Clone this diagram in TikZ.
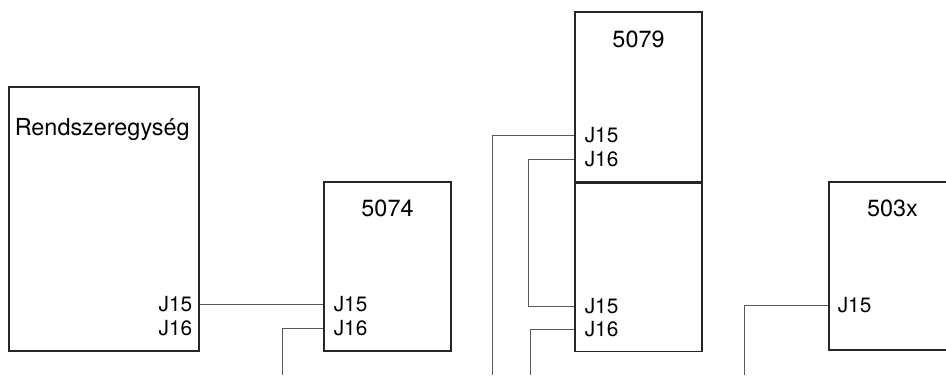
\documentclass[tikz,border=0pt]{standalone}
\usepackage{fontspec}
\setmainfont{TeX Gyre Heros}
\usetikzlibrary{positioning,calc}
\tikzset{
  egyseg/.style = {draw=black!85, line width=0.6pt, inner sep=0pt,
                   minimum width=63.5pt, minimum height=84pt},
  cim/.style    = {font=\fontsize{11.7}{14}\selectfont, inner sep=0pt},
  csatl/.style  = {font=\fontsize{10.4}{12}\selectfont, inner sep=0pt},
  kabel/.style  = {draw=black!65, line width=0.5pt}
}

\begin{document}
\begin{tikzpicture}[x=0.5pt, y=-0.5pt]
    \useasboundingbox (0,0) rectangle (946,375);
    \clip (0,0) rectangle (946,375);

    % egysegek
    \node[egyseg, minimum width=95pt, minimum height=132pt] (rendsz) at (104,219) {};
    \node[egyseg, minimum height=84.5pt] (e5074) at (387.5,266.5) {};
    \node[egyseg, minimum height=85pt] (e5079) at (638.5,97) {};
    \node[egyseg, below=0pt of e5079] (e5079b) {};
    \node[egyseg] (e503x) at (892.5,266) {};

    % feliratok
    \node[cim, anchor=base west] (rendszC) at ([xshift=3pt, yshift=-24.5pt]rendsz.north west) {Rendszeregység};
    \node[cim, anchor=base] (c5074) at ([yshift=-17.5pt]e5074.north) {5074};
    \node[cim, anchor=base] (c5079) at ([yshift=-18pt]e5079.north) {5079};
    \node[cim, anchor=base] (c503x) at ([yshift=-17.5pt]e503x.north) {503x};

    \node[csatl, anchor=base east] (rJ15) at ([xshift=-3.5pt, yshift=20pt]rendsz.south east) {J15};
    \node[csatl, anchor=base east] (rJ16) at ([xshift=-3.5pt, yshift=8pt]rendsz.south east) {J16};
    \node[csatl, anchor=base west] (aJ15) at ([xshift=5pt, yshift=20pt]e5074.south west) {J15};
    \node[csatl, anchor=base west] (aJ16) at ([xshift=5pt, yshift=8pt]e5074.south west) {J16};
    \node[csatl, anchor=base west] (bJ15) at ([xshift=5pt, yshift=20pt]e5079.south west) {J15};
    \node[csatl, anchor=base west] (bJ16) at ([xshift=5pt, yshift=8pt]e5079.south west) {J16};
    \node[csatl, anchor=base west] (cJ15) at ([xshift=5pt, yshift=19pt]e5079b.south west) {J15};
    \node[csatl, anchor=base west] (cJ16) at ([xshift=5pt, yshift=7.5pt]e5079b.south west) {J16};
    \node[csatl, anchor=base west] (dJ15) at ([xshift=4.5pt, yshift=19pt]e503x.south west) {J15};

    % kabelek
    \coordinate (v1) at (282,375);
    \coordinate (v2) at (492,375);
    \coordinate (v3) at (530,375);
    \coordinate (v4) at (744,375);

    \draw[kabel] (rendsz.east |- rJ15) -- (e5074.west |- aJ15);
    \draw[kabel] (e5074.west |- aJ16) -| (v1);
    \draw[kabel] (e5079.west |- bJ15) -| (v2);
    \draw[kabel] (e5079.west |- bJ16) -- +(-46,0) |- (e5079b.west |- cJ15);
    \draw[kabel] (e5079b.west |- cJ16) -| (v3);
    \draw[kabel] (e503x.west |- dJ15) -| (v4);
\end{tikzpicture}
\end{document}
